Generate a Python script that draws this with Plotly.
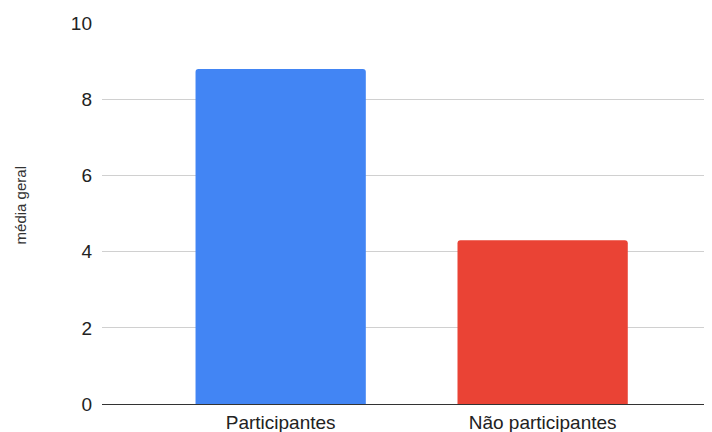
import plotly.graph_objects as go

categories = ["Participantes", "Não participantes"]
values = [8.8, 4.3]
colors = ["#4285F4", "#EA4335"]
y_ticks = [0, 2, 4, 6, 8, 10]
y_title = "média geral"

# page has an 8px body margin, so the figure is offset by 8px
OFF = 8
W, H = 712, 432 - OFF
L, R, T, B = 102 - OFF, 0, 22.7 - OFF, 27.5
plot_h = H - T - B

fig = go.Figure(go.Bar(
    x=categories, y=values,
    marker=dict(color=colors, line=dict(width=0), cornerradius=3),
    width=0.65,
))

fig.update_layout(
    width=W, height=H,
    margin=dict(l=L, r=R, t=T, b=B, autoexpand=False),
    plot_bgcolor="white", paper_bgcolor="white",
    font=dict(family="Arial, Liberation Sans, sans-serif", size=19, color="#222222"),
    showlegend=False,
    xaxis=dict(
        type="category",
        range=[-0.682, 1.677],
        showgrid=False, showline=False, zeroline=False,
        ticks="", ticklabelstandoff=5,
        tickfont=dict(size=19, color="#222222"),
    ),
    yaxis=dict(
        range=[0, 10.01],
        tickvals=y_ticks,
        showgrid=True, gridcolor="#d0d0d0", gridwidth=1,
        zeroline=True, zerolinecolor="#333333", zerolinewidth=1.3,
        showline=False, ticks="", ticklabelstandoff=9,
        tickfont=dict(size=19, color="#222222"),
    ),
    annotations=[dict(
        text=y_title, textangle=-90, showarrow=False,
        xref="paper", yref="paper",
        x=(20 - 102) / (W - L - R), y=(404.5 - 205.5) / plot_h,
        xanchor="center", yanchor="middle",
        font=dict(size=15, color="#333333"),
    )],
)

fig.write_html("out.html")
